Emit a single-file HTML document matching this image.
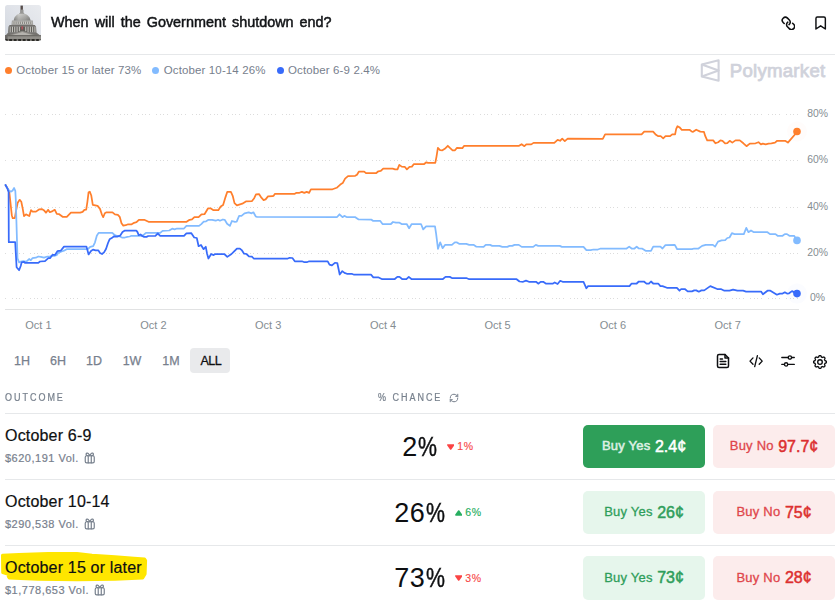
<!DOCTYPE html>
<html><head><meta charset="utf-8"><title>When will the Government shutdown end?</title>
<style>
html,body{margin:0;padding:0;background:#fff;}
body{width:835px;height:601px;position:relative;overflow:hidden;font-family:"Liberation Sans",sans-serif;color:#0e0f11;}
.abs{position:absolute;}
.thumb{position:absolute;left:5px;top:5px;}
.title{position:absolute;left:51px;top:12px;font-size:15px;line-height:20px;white-space:nowrap;color:#121417;-webkit-text-stroke:.5px #121417;letter-spacing:0;word-spacing:2.1px;transform:scaleX(.96);transform-origin:0 0;}
.hr{position:absolute;left:5px;right:0;height:1px;background:#e6e8ea;}
.legend{position:absolute;left:5px;top:63px;font-size:11.5px;line-height:14px;color:#77808d;white-space:nowrap;letter-spacing:.13px;}
.legend span.i{margin-right:11px;}
.legend i{display:inline-block;width:7px;height:7px;border-radius:50%;margin-right:4.3px;vertical-align:0px;}
.pm{position:absolute;left:700px;top:58px;}
.chart{position:absolute;left:0;top:90px;}
.ax text{font-size:11px;fill:#858d92;font-family:"Liberation Sans",sans-serif;}
.tabs{position:absolute;left:5px;top:348px;height:25px;font-size:12.5px;color:#77808d;-webkit-text-stroke:.25px #77808d;}
.tabs span{position:absolute;top:0;height:25px;line-height:26.5px;text-align:center;border-radius:4px;}
.tabs span.on{background:#e9eaec;color:#0e0f11;-webkit-text-stroke:.3px #0e0f11;letter-spacing:-.5px;text-indent:1.5px;}
.th{position:absolute;top:392.300px;font-size:10px;letter-spacing:2.200px;color:#77808d;line-height:12px;-webkit-text-stroke:.22px #77808d;transform:scaleX(.9);transform-origin:0 0;white-space:nowrap;}
.row{position:absolute;left:0;width:835px;height:66px;}
.name{position:absolute;left:5px;top:12px;font-size:16px;line-height:20px;white-space:nowrap;color:#0e0f11;-webkit-text-stroke:.2px #0e0f11;letter-spacing:.18px;z-index:1;}
.row{z-index:0;}
.vol{position:absolute;left:5px;top:37px;font-size:11px;line-height:14px;color:#77808d;white-space:nowrap;-webkit-text-stroke:.2px #77808d;letter-spacing:.5px;}
.gift{vertical-align:-2.5px;margin-left:.6px;}
.pct{position:absolute;top:17px;font-size:27px;line-height:32px;color:#0e0f11;white-space:nowrap;letter-spacing:.7px;}
.pct span{display:inline-block;transform:scaleX(.79);transform-origin:0 50%;margin-right:-5.600px;letter-spacing:0;-webkit-text-stroke:.45px #0e0f11;}
.chg{position:absolute;top:25px;font-size:10.5px;line-height:14px;white-space:nowrap;-webkit-text-stroke:.15px currentColor;letter-spacing:.7px;}
.chg svg{margin-right:3px;vertical-align:.5px;}
.chg.up{color:#27ae60;} .chg.dn{color:#f74a4a;}
.btn{position:absolute;top:11px;width:122px;height:43px;border-radius:5px;display:flex;justify-content:center;align-items:center;font-size:13px;white-space:nowrap;}
.btn span{-webkit-text-stroke:.3px currentColor;margin-right:4.5px;position:relative;top:-.7px;letter-spacing:.22px;}
.btn.solid span{-webkit-text-stroke:.55px currentColor;}
.btn b{font-weight:normal;font-size:16px;-webkit-text-stroke:.5px currentColor;position:relative;top:.1px;}
.btn.yes{left:583px;background:#e6f6ec;color:#2f9e5b;}
.btn.yes.solid{background:#2e9f59;color:#dcefe3;}
.btn.yes.solid b{color:#fff;}
.btn.no{left:713px;background:#fcecec;color:#e0464b;}
.btn.no b{color:#dc3030;}
.ico{position:absolute;}
</style></head><body>
<svg class="thumb" width="36" height="36" viewBox="0 0 36 36">
<defs><clipPath id="tc"><rect width="36" height="36" rx="2.500"/></clipPath>
<linearGradient id="sky" x1="0" y1="1" x2="1" y2="0"><stop offset="0" stop-color="#d2d7df"/><stop offset=".55" stop-color="#e0e3e9"/><stop offset="1" stop-color="#e9ebef"/></linearGradient>
<linearGradient id="dm" x1="0" y1="0" x2="1" y2="0"><stop offset="0" stop-color="#92928f"/><stop offset=".3" stop-color="#c6c6c3"/><stop offset=".7" stop-color="#adadaa"/><stop offset="1" stop-color="#8c8c89"/></linearGradient>
<linearGradient id="dv" x1="0" y1="0" x2="0" y2="1"><stop offset="0" stop-color="#fff" stop-opacity=".15"/><stop offset="1" stop-color="#000" stop-opacity=".16"/></linearGradient>
<filter id="tb" x="-10%" y="-10%" width="120%" height="120%"><feGaussianBlur stdDeviation="0.450"/></filter></defs>
<g clip-path="url(#tc)"><rect width="36" height="36" fill="url(#sky)"/>
<g filter="url(#tb)">
<rect x="15.500" y="0.600" width="2.400" height="4.300" fill="#554b4a"/>
<path d="M15.100 4.700 H18.500 V7.400 L19.600 8.900 H14 L15.100 7.400 Z" fill="#969694"/>
<path d="M8.700 15.800 C9 12 11.300 9.400 14.800 8.700 H19 C22.500 9.400 25.200 12 25.600 15.800 Z" fill="url(#dm)"/>
<path d="M8.700 15.800 C9 12 11.300 9.400 14.800 8.700 H19 C22.500 9.400 25.200 12 25.600 15.800 Z" fill="url(#dv)"/>
<path d="M6.900 15.500 H27.800 L28.300 20.200 H6.400 Z" fill="#a09f9c"/>
<rect x="7.600" y="16.500" width="19.600" height="2.600" fill="#d0cfcc" opacity=".8"/>
<g fill="#6f6d68" opacity=".85"><rect x="8.600" y="16.700" width=".800" height="2.300"/><rect x="10.700" y="16.700" width=".800" height="2.300"/><rect x="12.800" y="16.700" width=".800" height="2.300"/><rect x="14.900" y="16.700" width=".800" height="2.300"/><rect x="17.000" y="16.700" width=".800" height="2.300"/><rect x="19.100" y="16.700" width=".800" height="2.300"/><rect x="21.200" y="16.700" width=".800" height="2.300"/><rect x="23.300" y="16.700" width=".800" height="2.300"/><rect x="25.400" y="16.700" width=".800" height="2.300"/></g>
<rect x="4.300" y="20" width="25.900" height="1.300" fill="#72706c"/>
<path d="M3.600 21.200 H31 L31.400 27.800 H3.200 Z" fill="#5f5d59"/>
<g fill="#d2d1cd" opacity=".9"><rect x="4.600" y="21.700" width="1.100" height="5.800"/><rect x="6.900" y="21.700" width="1.100" height="5.800"/><rect x="9.200" y="21.700" width="1.100" height="5.800"/><rect x="11.500" y="21.700" width="1.100" height="5.800"/><rect x="13.800" y="21.700" width="1.100" height="4.600"/><rect x="20.200" y="21.700" width="1.100" height="4.600"/><rect x="22.500" y="21.700" width="1.100" height="5.800"/><rect x="24.800" y="21.700" width="1.100" height="5.800"/><rect x="27.100" y="21.700" width="1.100" height="5.800"/><rect x="29.400" y="21.700" width="1.100" height="5.800"/></g>
<rect x="16.400" y="21.300" width="1.700" height="3.200" fill="#b0525b"/>
<path d="M3.200 27.400 L0.600 30.600 H35.200 L31.400 27.400 Z" fill="#75736f"/>
<path d="M1.500 31.100 L17.300 25.800 L33 31.100 Z" fill="#8d8b86"/>
<path d="M6.500 30.300 L17.300 27 L28.100 30.300 Z" fill="#b5b3ae"/>
<rect x="0" y="30.500" width="36" height="3.600" fill="#908e89"/>
<rect x="0" y="30.300" width="36" height=".900" fill="#5c5a56"/>
<rect x="0" y="30.300" width="2.600" height="5.700" fill="#6d6b67"/>
<rect x="0" y="34" width="36" height="2" fill="#2b2927"/>
<g fill="#8d8b86"><rect x="2.600" y="34.300" width="1.600" height="1.700"/><rect x="7.100" y="34.300" width="1.600" height="1.700"/><rect x="11.600" y="34.300" width="1.600" height="1.700"/><rect x="16.100" y="34.300" width="1.600" height="1.700"/><rect x="20.600" y="34.300" width="1.600" height="1.700"/><rect x="25.100" y="34.300" width="1.600" height="1.700"/><rect x="29.600" y="34.300" width="1.600" height="1.700"/><rect x="33.800" y="34.300" width="1.600" height="1.700"/></g>
</g></g></svg>
<div class="title">When will the Government shutdown end?</div>
<svg class="ico" style="left:780.65px;top:15.65px" width="14.8" height="14.8" viewBox="0 0 24 24" fill="none" stroke="#0e0f11" stroke-width="2.5" stroke-linecap="round" stroke-linejoin="round"><g transform="rotate(90 12 12)"><path d="M10 13a5 5 0 0 0 7.540.540l3-3a5 5 0 0 0-7.070-7.070l-1.720 1.710"/><path d="M14 11a5 5 0 0 0-7.540-.540l-3 3a5 5 0 0 0 7.070 7.070l1.710-1.710"/></g></svg>
<svg class="ico" style="left:813px;top:15px" width="16" height="16" viewBox="0 0 16 16" fill="none" stroke="#0e0f11" stroke-width="1.45" stroke-linejoin="round" stroke-linecap="round"><path d="M2.950 14 V3.450 a1.400 1.400 0 0 1 1.400 -1.400 H10.950 a1.400 1.400 0 0 1 1.400 1.400 V14 L7.650 10.800 Z"/></svg>
<div class="hr" style="top:54px"></div>
<div class="legend"><span class="i"><i style="background:#ff7f2c"></i>October 15 or later 73%</span><span class="i"><i style="background:#82bbff"></i>October 10-14 26%</span><span class="i"><i style="background:#386bfa"></i>October 6-9 2.4%</span></div>
<svg class="pm" width="135" height="26" viewBox="0 0 135 26"><g fill="none" stroke="#d0d2db" stroke-width="2.100" stroke-linejoin="round"><path d="M1.800 6.600 L18.600 2.200 V22.800 L1.800 18.400 Z"/><path d="M1.800 6.600 L18.600 12.500 L1.800 18.400"/></g><text x="29.700" y="19" font-family="Liberation Sans,sans-serif" font-size="18.600" fill="#d0d2db" stroke="#d0d2db" stroke-width=".75" textLength="95.500">Polymarket</text></svg>
<svg class="chart" width="835" height="250" viewBox="0 90 835 250">
<line x1="5" x2="799" y1="114.5" y2="114.5" stroke="#dcdcdc" stroke-width="1" stroke-dasharray="1 6 1 3 1 2 1 3"/><line x1="5" x2="799" y1="160.5" y2="160.5" stroke="#dcdcdc" stroke-width="1" stroke-dasharray="1 6 1 3 1 2 1 3"/><line x1="5" x2="799" y1="207.5" y2="207.5" stroke="#dcdcdc" stroke-width="1" stroke-dasharray="1 6 1 3 1 2 1 3"/><line x1="5" x2="799" y1="253.5" y2="253.5" stroke="#dcdcdc" stroke-width="1" stroke-dasharray="1 6 1 3 1 2 1 3"/><line x1="5" x2="799" y1="298.5" y2="298.5" stroke="#dcdcdc" stroke-width="1" stroke-dasharray="1 6 1 3 1 2 1 3"/>
<line x1="5" x2="799" y1="309.5" y2="309.5" stroke="#e1e2e3" stroke-width="1"/>
<g fill="none" stroke-width="1.75" stroke-linejoin="round" stroke-linecap="round">
<path d="M5.7 185.2 L7.7 188.6 L9.4 192.8 L11.8 215.2 L12.7 218.2 L14.8 218.2 L16.0 211.1 L17.7 202.8 L19.7 199.8 L21.3 201.8 L22.7 208.6 L24.0 216.1 L26.0 214.3 L27.7 215.2 L29.3 216.1 L31.0 210.2 L32.6 211.6 L36.0 211.6 L39.3 209.3 L41.8 209.1 L43.8 210.2 L46.0 212.7 L48.1 209.8 L49.8 212.2 L52.6 211.1 L54.8 209.8 L56.8 213.8 L59.2 214.2 L62.6 216.8 L66.8 216.8 L70.9 212.7 L80.2 212.6 L82.6 211.9 L84.4 209.9 L86.2 209.6 L87.4 201.8 L88.6 192.2 L89.8 191.7 L91.2 195.2 L92.8 204.8 L95.2 205.3 L97.6 205.9 L100.0 208.9 L101.8 214.3 L103.2 217.2 L104.8 213.2 L106.5 212.3 L112.5 212.3 L114.9 214.3 L117.9 214.8 L119.7 216.8 L121.5 223.3 L123.3 225.6 L125.7 225.2 L128.1 224.3 L131.7 224.3 L134.1 222.8 L136.5 222.2 L138.9 219.8 L144.2 219.8 L148.5 221.8 L186.6 221.8 L189.6 219.8 L192.0 219.4 L194.4 217.1 L198.6 217.1 L201.5 214.3 L204.5 214.2 L208.1 208.3 L210.5 208.3 L213.5 210.2 L218.3 210.2 L220.7 206.6 L223.1 205.1 L225.5 197.1 L227.3 191.8 L230.9 191.8 L232.7 195.8 L234.5 203.1 L236.9 205.3 L242.3 203.7 L245.9 201.4 L251.8 201.2 L254.2 198.2 L256.0 194.3 L259.0 194.1 L261.4 197.7 L263.6 200.1 L265.6 199.4 L268.0 196.4 L272.8 196.2 L273.6 195.8 L275.0 193.8 L294.8 193.8 L296.5 192.8 L299.5 192.8 L301.9 191.9 L304.3 192.9 L306.7 191.9 L309.1 192.9 L310.9 189.3 L332.5 189.3 L336.7 187.8 L340.3 184.6 L342.7 183.1 L345.1 178.6 L348.0 176.2 L355.2 175.8 L357.0 174.7 L358.8 171.7 L364.2 171.7 L366.0 173.2 L376.0 173.2 L378.4 171.3 L380.8 170.9 L383.2 168.6 L392.7 168.6 L395.1 169.4 L397.5 169.4 L399.3 164.9 L401.7 166.6 L404.7 166.8 L406.9 169.4 L409.5 166.8 L411.9 166.6 L413.7 164.2 L423.9 164.2 L426.3 162.3 L428.1 162.9 L435.3 162.9 L436.5 156.6 L437.9 147.9 L440.1 150.1 L442.4 150.3 L444.8 148.8 L447.8 145.8 L450.2 148.2 L452.6 150.3 L455.0 150.3 L456.8 147.9 L462.4 148.1 L464.2 145.8 L519.1 145.8 L521.6 144.2 L524.4 146.2 L526.3 144.4 L531.3 144.4 L533.5 142.9 L554.3 142.9 L557.6 139.9 L560.1 140.8 L562.2 138.7 L564.8 141.2 L567.7 138.7 L602.8 138.8 L605.1 134.3 L641.6 134.3 L644.2 131.6 L653.1 131.6 L656.0 134.8 L658.3 136.2 L660.7 136.2 L663.2 138.3 L665.5 136.2 L670.1 136.2 L672.2 134.3 L675.1 134.3 L676.2 128.9 L677.5 126.2 L679.4 127.2 L681.8 129.8 L689.5 129.8 L691.9 131.6 L693.1 131.8 L696.2 129.7 L700.3 131.6 L703.9 131.8 L705.3 136.2 L707.2 140.4 L713.2 140.4 L715.4 143.3 L718.2 142.2 L720.4 140.4 L722.5 140.8 L725.1 143.3 L727.3 143.1 L729.7 140.8 L732.3 142.6 L735.5 140.4 L739.8 140.4 L743.4 143.3 L746.5 146.2 L749.8 143.6 L755.6 143.3 L758.5 142.2 L760.9 144.4 L762.8 143.6 L765.7 144.4 L768.5 143.6 L771.4 143.3 L775.0 142.6 L777.2 140.8 L785.1 140.8 L787.9 142.6 L797.3 131.8" stroke="#ff7f2c"/>
<path d="M5.5 185.0 L7.5 188.3 L9.2 190.8 L10.8 191.6 L12.5 190.8 L14.1 188.0 L15.3 190.8 L15.8 200.0 L17.5 258.2 L19.1 262.4 L20.8 261.5 L23.3 261.2 L25.8 261.5 L27.5 260.7 L29.1 259.0 L30.8 260.2 L32.4 258.2 L35.8 257.7 L38.3 256.5 L40.8 256.9 L44.0 257.7 L47.4 256.5 L49.9 256.5 L51.6 255.7 L54.1 256.0 L56.6 255.2 L58.2 252.9 L61.6 251.5 L64.0 250.7 L66.6 249.2 L87.8 249.2 L90.2 246.8 L93.2 246.1 L95.0 242.3 L96.8 235.7 L98.6 232.9 L112.3 232.9 L114.1 234.5 L115.9 235.7 L119.5 236.3 L121.9 237.5 L124.9 237.5 L127.3 236.9 L129.7 236.5 L131.5 235.8 L142.3 235.8 L144.1 234.5 L145.9 232.9 L160.2 232.9 L162.6 230.9 L169.2 230.5 L172.2 228.7 L174.6 229.3 L177.0 228.5 L184.0 228.5 L186.4 225.9 L199.0 225.9 L201.3 224.1 L203.7 221.7 L206.1 221.3 L208.5 219.8 L212.1 219.8 L215.7 220.7 L218.1 219.8 L219.9 220.7 L222.9 219.5 L224.7 219.8 L227.1 223.7 L229.9 225.9 L231.9 221.0 L234.9 221.9 L236.7 221.6 L239.1 215.9 L241.5 215.9 L244.5 213.3 L248.7 212.3 L251.6 213.3 L253.4 212.3 L255.8 216.5 L257.0 216.9 L337.1 217.0 L339.5 214.3 L342.5 217.2 L344.3 215.9 L346.6 217.0 L355.0 217.0 L358.6 219.5 L371.5 219.7 L372.9 220.8 L380.1 220.8 L382.5 224.0 L390.9 224.0 L393.0 222.0 L395.9 222.7 L399.5 222.7 L401.6 224.0 L406.7 224.0 L409.1 228.3 L411.7 224.0 L421.0 224.0 L423.2 229.4 L426.1 226.3 L435.0 226.3 L436.1 233.7 L438.0 248.8 L440.2 242.4 L442.6 248.1 L445.2 244.8 L451.9 244.8 L454.8 242.4 L457.0 242.4 L459.1 243.8 L466.3 243.8 L469.2 244.8 L473.5 244.8 L476.4 246.7 L483.6 246.9 L485.7 244.9 L490.1 244.9 L492.2 245.9 L499.4 245.9 L502.3 246.9 L507.3 246.9 L509.5 245.9 L512.3 245.9 L514.5 244.9 L518.8 244.9 L521.7 246.9 L533.2 246.9 L535.8 244.9 L538.2 245.9 L559.8 245.9 L561.9 246.9 L583.5 246.9 L586.4 250.2 L590.7 250.2 L593.5 249.5 L597.9 249.5 L600.7 248.5 L626.6 248.5 L629.2 246.6 L631.6 248.5 L634.5 248.5 L636.7 246.6 L638.8 248.5 L642.4 248.7 L646.0 250.9 L651.0 250.9 L653.2 246.6 L660.4 246.6 L662.5 248.5 L665.4 245.2 L674.8 244.9 L677.2 249.2 L692.0 249.2 L694.2 248.5 L698.5 248.5 L702.1 245.9 L705.7 244.9 L712.9 244.9 L715.1 246.6 L718.0 241.6 L721.6 240.4 L725.2 240.1 L727.3 238.0 L729.5 237.5 L731.9 233.2 L734.5 234.1 L743.8 234.1 L746.3 227.9 L748.4 232.2 L751.0 230.5 L753.9 232.2 L767.5 232.2 L770.0 234.1 L775.5 234.1 L777.6 235.8 L782.6 235.8 L784.8 234.1 L787.0 234.1 L789.4 235.8 L794.1 235.8 L797.0 240.4" stroke="#82bbff"/>
<path d="M5.5 185.0 L7.3 188.3 L8.6 192.0 L8.8 242.2 L15.2 242.2 L15.9 255.0 L16.6 267.3 L19.1 270.2 L20.8 265.7 L21.6 262.4 L24.1 261.9 L25.0 262.9 L38.3 262.9 L40.0 261.5 L45.0 261.2 L48.3 258.2 L50.0 258.2 L52.4 254.9 L55.0 254.9 L57.4 251.2 L60.7 250.7 L64.0 246.6 L86.4 246.6 L87.4 250.0 L88.6 254.4 L91.0 251.0 L93.0 249.6 L95.6 250.4 L98.4 250.4 L100.0 253.0 L102.0 254.0 L104.0 252.4 L106.0 249.0 L108.0 243.0 L109.6 239.3 L111.7 238.1 L114.1 236.3 L117.1 236.6 L120.1 235.7 L122.5 232.1 L124.9 230.5 L136.3 230.5 L137.5 232.1 L138.7 235.1 L140.5 234.5 L142.3 236.0 L144.1 236.9 L146.5 236.9 L148.3 236.0 L155.4 235.8 L157.8 233.5 L160.2 235.8 L184.0 235.8 L186.4 233.3 L191.2 233.1 L194.2 237.5 L196.8 238.0 L198.6 246.2 L201.0 245.0 L203.6 249.2 L205.8 246.8 L207.0 253.4 L208.4 258.5 L211.2 254.0 L213.6 255.1 L215.4 254.0 L224.3 254.0 L227.3 256.9 L231.5 254.0 L233.9 251.6 L236.9 248.6 L239.9 248.6 L241.7 250.1 L244.1 253.7 L246.5 254.0 L248.9 256.3 L251.9 256.7 L253.7 258.5 L287.8 258.5 L289.6 257.8 L292.4 258.0 L294.8 261.3 L302.0 261.3 L304.4 262.2 L306.8 262.2 L309.2 261.3 L327.7 261.3 L329.5 264.6 L331.9 265.4 L334.9 262.8 L337.3 263.0 L338.5 268.7 L339.7 274.5 L342.3 271.1 L344.5 272.9 L346.9 273.8 L351.7 273.8 L354.1 274.7 L371.0 274.7 L373.3 277.3 L378.2 277.3 L382.2 279.2 L394.5 279.2 L397.3 276.9 L399.5 276.9 L402.4 279.2 L406.4 279.2 L408.8 276.9 L411.7 279.2 L442.6 279.2 L445.5 276.9 L449.8 276.9 L451.9 278.0 L466.3 278.0 L469.2 279.2 L516.6 279.2 L519.5 281.5 L523.1 281.8 L526.0 280.6 L528.9 281.8 L536.0 281.8 L538.5 283.7 L540.6 281.8 L543.2 281.8 L546.1 283.7 L552.6 283.7 L554.7 282.5 L557.6 284.0 L560.2 280.8 L562.6 281.8 L583.5 281.8 L586.4 288.3 L588.1 286.1 L629.5 286.1 L631.6 283.5 L636.7 283.5 L638.8 281.5 L643.9 281.5 L646.5 283.7 L648.9 283.7 L651.0 281.5 L653.2 283.5 L658.2 283.5 L660.4 286.1 L662.5 286.1 L666.9 287.8 L676.9 287.8 L679.5 290.7 L681.2 289.0 L684.8 289.0 L687.7 291.4 L692.0 291.4 L694.2 290.4 L696.3 290.4 L698.8 291.7 L701.4 290.4 L704.2 290.4 L710.3 286.1 L717.2 289.0 L720.8 289.0 L724.4 290.7 L729.5 290.7 L733.1 289.7 L737.4 290.7 L743.1 290.7 L746.0 291.6 L761.1 291.6 L762.9 294.3 L767.5 290.7 L770.4 290.7 L776.9 294.7 L779.8 293.6 L782.6 293.6 L784.8 292.3 L787.0 293.6 L789.1 293.3 L792.0 291.1 L797.0 293.6" stroke="#386bfa"/>
</g>
<circle cx="797" cy="131.5" r="10" fill="#ff7f2c" opacity="0.02"/>
<circle cx="797" cy="131.5" r="3.8" fill="#ff7f2c"/>
<circle cx="797" cy="240.4" r="3.8" fill="#82bbff"/>
<circle cx="797" cy="293.6" r="10" fill="#386bfa" opacity="0.02"/>
<circle cx="797" cy="293.6" r="3.8" fill="#386bfa"/>
<g class="ax"><text x="817.6" y="117" text-anchor="middle" style="font-size:10.4px">80%</text><text x="817.6" y="163" text-anchor="middle" style="font-size:10.4px">60%</text><text x="817.6" y="210" text-anchor="middle" style="font-size:10.4px">40%</text><text x="817.6" y="256" text-anchor="middle" style="font-size:10.4px">20%</text><text x="817.6" y="301" text-anchor="middle" style="font-size:10.4px">0%</text><text x="38.4" y="329" text-anchor="middle">Oct 1</text><text x="153.4" y="329" text-anchor="middle">Oct 2</text><text x="268.2" y="329" text-anchor="middle">Oct 3</text><text x="383.1" y="329" text-anchor="middle">Oct 4</text><text x="497.6" y="329" text-anchor="middle">Oct 5</text><text x="612.9" y="329" text-anchor="middle">Oct 6</text><text x="727.7" y="329" text-anchor="middle">Oct 7</text></g>
</svg>
<div class="tabs"><span style="left:5px;width:24px">1H</span><span style="left:41px;width:24px">6H</span><span style="left:77px;width:24px">1D</span><span style="left:114px;width:26px">1W</span><span style="left:154px;width:24px">1M</span><span class="on" style="left:185px;width:40px">ALL</span></div>
<svg class="ico" style="left:715px;top:353px" width="16" height="16" viewBox="0 0 16 16" fill="none" stroke="#0e0f11" stroke-width="1.5" stroke-linecap="round" stroke-linejoin="round"><path d="M4 1.500 H10 L13.500 5 V13 a1.500 1.500 0 0 1 -1.500 1.500 H4 a1.500 1.500 0 0 1 -1.500 -1.500 V3 a1.500 1.500 0 0 1 1.500 -1.500 Z"/><path d="M10 1.500 V5 H13.500"/><path d="M5.200 6 H7.500 M5.200 8.600 H10.800 M5.200 11.200 H10.800"/></svg>
<svg class="ico" style="left:748px;top:353px" width="16" height="16" viewBox="0 0 16 16" fill="none" stroke="#0e0f11" stroke-width="1.35" stroke-linecap="round" stroke-linejoin="round"><path d="M5 4.900 L2 8.100 L5 11.300 M11.200 4.900 L14.200 8.100 L11.200 11.300 M9.400 2.600 L6.700 13.600"/></svg>
<svg class="ico" style="left:780px;top:353px" width="16" height="16" viewBox="0 0 16 16" fill="none" stroke="#0e0f11" stroke-width="1.3" stroke-linecap="round"><path d="M1.800 4.500 H8.200 M11.600 4.500 H14.300 M1.800 11.400 H4.400 M7.800 11.400 H14.300"/><circle cx="9.900" cy="4.500" r="1.650"/><circle cx="6.100" cy="11.400" r="1.650"/></svg>
<svg class="ico" style="left:812px;top:353.6px" width="16" height="16" viewBox="0 0 16 16" fill="none" stroke="#0e0f11" stroke-width="1.35" stroke-linejoin="round"><path d="M8.00 1.63 L8.25 1.64 L8.50 1.67 L8.74 1.75 L8.96 1.95 L9.12 2.36 L9.25 2.77 L9.41 2.99 L9.59 3.10 L9.78 3.18 L9.96 3.26 L10.15 3.34 L10.34 3.41 L10.54 3.46 L10.81 3.42 L11.19 3.22 L11.60 3.04 L11.90 3.06 L12.12 3.17 L12.32 3.33 L12.50 3.50 L12.67 3.68 L12.83 3.88 L12.94 4.10 L12.96 4.40 L12.78 4.81 L12.58 5.19 L12.54 5.46 L12.59 5.66 L12.66 5.85 L12.74 6.04 L12.82 6.22 L12.90 6.41 L13.01 6.59 L13.23 6.75 L13.64 6.88 L14.05 7.04 L14.25 7.26 L14.33 7.50 L14.36 7.75 L14.37 8.00 L14.36 8.25 L14.33 8.50 L14.25 8.74 L14.05 8.96 L13.64 9.12 L13.23 9.25 L13.01 9.41 L12.90 9.59 L12.82 9.78 L12.74 9.96 L12.66 10.15 L12.59 10.34 L12.54 10.54 L12.58 10.81 L12.78 11.19 L12.96 11.60 L12.94 11.90 L12.83 12.12 L12.67 12.32 L12.50 12.50 L12.32 12.67 L12.12 12.83 L11.90 12.94 L11.60 12.96 L11.19 12.78 L10.81 12.58 L10.54 12.54 L10.34 12.59 L10.15 12.66 L9.96 12.74 L9.78 12.82 L9.59 12.90 L9.41 13.01 L9.25 13.23 L9.12 13.64 L8.96 14.05 L8.74 14.25 L8.50 14.33 L8.25 14.36 L8.00 14.37 L7.75 14.36 L7.50 14.33 L7.26 14.25 L7.04 14.05 L6.88 13.64 L6.75 13.23 L6.59 13.01 L6.41 12.90 L6.22 12.82 L6.04 12.74 L5.85 12.66 L5.66 12.59 L5.46 12.54 L5.19 12.58 L4.81 12.78 L4.40 12.96 L4.10 12.94 L3.88 12.83 L3.68 12.67 L3.50 12.50 L3.33 12.32 L3.17 12.12 L3.06 11.90 L3.04 11.60 L3.22 11.19 L3.42 10.81 L3.46 10.54 L3.41 10.34 L3.34 10.15 L3.26 9.96 L3.18 9.78 L3.10 9.59 L2.99 9.41 L2.77 9.25 L2.36 9.12 L1.95 8.96 L1.75 8.74 L1.67 8.50 L1.64 8.25 L1.63 8.00 L1.64 7.75 L1.67 7.50 L1.75 7.26 L1.95 7.04 L2.36 6.88 L2.77 6.75 L2.99 6.59 L3.10 6.41 L3.18 6.22 L3.26 6.04 L3.34 5.85 L3.41 5.66 L3.46 5.46 L3.42 5.19 L3.22 4.81 L3.04 4.40 L3.06 4.10 L3.17 3.88 L3.33 3.68 L3.50 3.50 L3.68 3.33 L3.88 3.17 L4.10 3.06 L4.40 3.04 L4.81 3.22 L5.19 3.42 L5.46 3.46 L5.66 3.41 L5.85 3.34 L6.04 3.26 L6.22 3.18 L6.41 3.10 L6.59 2.99 L6.75 2.77 L6.88 2.36 L7.04 1.95 L7.26 1.75 L7.50 1.67 L7.75 1.64 Z"/><circle cx="8" cy="8" r="2.3"/></svg>
<div class="th" style="left:5px">OUTCOME</div>
<div class="th" style="left:378px">% CHANCE</div>
<svg class="ico" style="left:448.5px;top:392.5px" width="10" height="10" viewBox="0 0 24 24" fill="none" stroke="#77808d" stroke-width="2.4" stroke-linecap="round" stroke-linejoin="round"><path d="M3 12a9 9 0 0 1 9-9 9.750 9.750 0 0 1 6.740 2.740L21 8"/><path d="M21 3v5h-5"/><path d="M21 12a9 9 0 0 1-9 9 9.750 9.750 0 0 1-6.740-2.740L3 16"/><path d="M8 16H3v5"/></svg>
<div class="hr" style="top:413px"></div>
<div class="hr" style="top:479px"></div>
<div class="hr" style="top:545px"></div>
<svg class="abs" style="left:0;top:548px" width="152" height="38" viewBox="0 548 152 38"><path d="M2.500 555.200 L19 554.500 L48 553.400 L77 553.400 L92 555.200 L115 556.700 L134 558.300 L144.600 559 L145.600 560.500 L145.100 574 L142.700 578 L115 579.200 L77 579.800 L38 579.200 L9.200 578 L8.300 576.500 L8.300 574.200 L2.700 572.600 Z" fill="#ffe600" stroke="#ffe600" stroke-width="3" stroke-linejoin="round"/></svg>
<div class="row" style="top:414px">
<div class="name" style="margin-top:0px">October 6-9</div>
<div class="vol" style="margin-top:0px">$620,191 Vol. <svg class="gift" width="13.5" height="13.5" viewBox="0 0 24 24" fill="none" stroke="#77808d" stroke-width="2.1" stroke-linecap="round" stroke-linejoin="round"><rect x="4" y="8.5" width="16" height="12.5" rx="2.5"/><path d="M9.300 8.500v12.500M14.700 8.500v12.500M9.300 8.500C7 8.500 5.500 7.200 5.500 5.600S8 2.800 9.600 4.600 12 8.500 12 8.500s.8-1.900 2.400-3.900 4.100-.6 4.100 1S17 8.500 14.700 8.500"/></svg></div>
<div class="pct" style="right:398.6px">2<span>%</span></div><div class="chg dn" style="left:446.9px;margin-top:0px"><svg width="7.4" height="6" viewBox="0 0 7.4 6"><path d="M0.900 1 H6.500 L3.700 5 Z" fill="#fb4444" stroke="#fb4444" stroke-width="1.600" stroke-linejoin="round"/></svg><span>1%</span></div>
<div class="btn yes solid" style="height:43px"><span>Buy Yes</span><b>2.4¢</b></div>
<div class="btn no" style="height:43px"><span>Buy No</span><b>97.7¢</b></div>
</div><div class="row" style="top:480px">
<div class="name" style="margin-top:0px">October 10-14</div>
<div class="vol" style="margin-top:0px">$290,538 Vol. <svg class="gift" width="13.5" height="13.5" viewBox="0 0 24 24" fill="none" stroke="#77808d" stroke-width="2.1" stroke-linecap="round" stroke-linejoin="round"><rect x="4" y="8.5" width="16" height="12.5" rx="2.5"/><path d="M9.300 8.500v12.500M14.700 8.500v12.500M9.300 8.500C7 8.500 5.500 7.200 5.500 5.600S8 2.800 9.600 4.600 12 8.500 12 8.500s.8-1.900 2.400-3.900 4.100-.6 4.100 1S17 8.500 14.700 8.500"/></svg></div>
<div class="pct" style="right:391px">26<span>%</span></div><div class="chg up" style="left:454.8px;margin-top:0px"><svg width="7.4" height="6" viewBox="0 0 7.4 6"><path d="M3.700 1 L6.500 5 H0.900 Z" fill="#27ae60" stroke="#27ae60" stroke-width="1.600" stroke-linejoin="round"/></svg><span>6%</span></div>
<div class="btn yes" style="height:43px"><span>Buy Yes</span><b>26¢</b></div>
<div class="btn no" style="height:43px"><span>Buy No</span><b>75¢</b></div>
</div><div class="row" style="top:545px">
<div class="name" style="margin-top:0.8px">October 15 or later</div>
<div class="vol" style="margin-top:0.8px">$1,778,653 Vol. <svg class="gift" width="13.5" height="13.5" viewBox="0 0 24 24" fill="none" stroke="#77808d" stroke-width="2.1" stroke-linecap="round" stroke-linejoin="round"><rect x="4" y="8.5" width="16" height="12.5" rx="2.5"/><path d="M9.300 8.500v12.500M14.700 8.500v12.500M9.300 8.500C7 8.500 5.500 7.200 5.500 5.600S8 2.800 9.600 4.600 12 8.500 12 8.500s.8-1.900 2.400-3.900 4.100-.6 4.100 1S17 8.500 14.700 8.500"/></svg></div>
<div class="pct" style="right:391px">73<span>%</span></div><div class="chg dn" style="left:454.8px;margin-top:0.8px"><svg width="7.4" height="6" viewBox="0 0 7.4 6"><path d="M0.900 1 H6.500 L3.700 5 Z" fill="#fb4444" stroke="#fb4444" stroke-width="1.600" stroke-linejoin="round"/></svg><span>3%</span></div>
<div class="btn yes" style="height:44px"><span>Buy Yes</span><b>73¢</b></div>
<div class="btn no" style="height:44px"><span>Buy No</span><b>28¢</b></div>
</div>
</body></html>
